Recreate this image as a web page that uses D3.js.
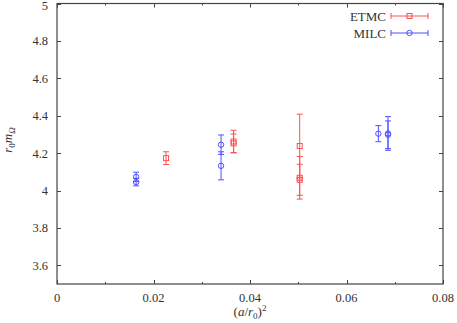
<!DOCTYPE html>
<html>
<head>
<meta charset="utf-8">
<script src="https://cdn.jsdelivr.net/npm/d3@7"></script>
<style>
  body { margin: 0; background: #fff; }
</style>
</head>
<body>
<svg id="chart" width="457" height="323" font-family="'Liberation Serif', 'DejaVu Serif', serif"></svg>
<script>
// ETMC points: x = (a/r0)^2, y = r0 mΩ, err = error
const etmcX = [0.0226, 0.0366, 0.0366, 0.0503, 0.0503, 0.0503];
const etmcY = [4.173, 4.262, 4.252, 4.238, 4.068, 4.057];
const etmcErr = [0.034, 0.060, 0.050, 0.170, 0.114, 0.083];

// MILC points
const milcX = [0.0164, 0.0164, 0.0340, 0.0340, 0.0666, 0.0686, 0.0686];
const milcY = [4.073, 4.045, 4.245, 4.132, 4.304, 4.305, 4.298];
const milcErr = [0.025, 0.020, 0.052, 0.075, 0.043, 0.090, 0.074];

const xTicks = [0, 0.02, 0.04, 0.06, 0.08];
const xMinor = [0.01, 0.03, 0.05, 0.07];
const yTicks = [3.6, 3.8, 4, 4.2, 4.4, 4.6, 4.8, 5];

const svg = d3.select("#chart");
const margin = { top: 3.5, right: 14, bottom: 39, left: 57 };
const width = 457, height = 323;

const x = d3.scaleLinear().domain([0, 0.08]).range([margin.left, width - margin.right]);
const y = d3.scaleLinear().domain([3.5, 5]).range([height - margin.bottom, margin.top]);

const frameColor = "#444";
const textColor = "#333";
const red = "rgb(255,80,80)";
const blue = "rgb(80,80,255)";

// ticks on all four sides
const tickG = svg.append("g").attr("stroke", frameColor).attr("stroke-width", 1);
xTicks.concat(xMinor).forEach(v => {
  const len = xMinor.includes(v) ? 2 : 4;
  const px = Math.round(x(v)) + 0.5;
  tickG.append("line").attr("x1", px).attr("x2", px).attr("y1", y(3.5)).attr("y2", y(3.5) - len);
  tickG.append("line").attr("x1", px).attr("x2", px).attr("y1", y(5)).attr("y2", y(5) + len);
});
yTicks.forEach(v => {
  const py = Math.round(y(v)) + 0.5;
  tickG.append("line").attr("x1", x(0)).attr("x2", x(0) + 4).attr("y1", py).attr("y2", py);
  tickG.append("line").attr("x1", x(0.08)).attr("x2", x(0.08) - 4).attr("y1", py).attr("y2", py);
});

// frame
svg.append("rect")
  .attr("x", x(0)).attr("y", y(5))
  .attr("width", x(0.08) - x(0)).attr("height", y(3.5) - y(5))
  .attr("fill", "none").attr("stroke", frameColor).attr("stroke-width", 1.2);

// tick labels
svg.append("g").attr("fill", textColor).selectAll("text").data(xTicks).join("text")
  .attr("x", d => x(d)).attr("y", y(3.5) + 18)
  .attr("text-anchor", "middle").attr("font-size", 12.5)
  .text(d => d === 0 ? "0" : d3.format(".2f")(d));

svg.append("g").attr("fill", textColor).selectAll("text").data(yTicks).join("text")
  .attr("x", x(0) - 9).attr("y", d => Math.max(y(d) + 4.5, 10))
  .attr("text-anchor", "end").attr("font-size", 12.5)
  .text(d => d === 4 || d === 5 ? String(d) : d3.format(".1f")(d));

// axis titles
const xl = svg.append("text").attr("fill", textColor).attr("x", x(0.04)).attr("y", 316)
  .attr("text-anchor", "middle").attr("font-size", 13);
xl.append("tspan").text("(");
xl.append("tspan").attr("font-style", "italic").text("a");
xl.append("tspan").text("/");
xl.append("tspan").attr("font-style", "italic").text("r");
xl.append("tspan").attr("font-size", 9).attr("dy", 3).text("0");
xl.append("tspan").attr("dy", -3).text(")");
xl.append("tspan").attr("font-size", 9).attr("dy", -5).text("2");

const yl = svg.append("text").attr("fill", textColor)
  .attr("transform", `translate(12,${y(4.27)}) rotate(-90)`)
  .attr("text-anchor", "middle").attr("font-size", 13).attr("font-style", "italic");
yl.append("tspan").text("r");
yl.append("tspan").attr("font-size", 9).attr("dy", 3).attr("font-style", "normal").text("0");
yl.append("tspan").attr("dy", -3).text("m");
yl.append("tspan").attr("font-size", 9).attr("dy", 3).text("Ω");

// error bars and markers
function drawSeries(xs, ys, errs, color, marker) {
  const g = svg.append("g").attr("stroke", color).attr("fill", "none").attr("stroke-width", 1);
  xs.forEach((xv, i) => {
    const cx = x(xv), cy = y(ys[i]);
    const top = y(ys[i] + errs[i]), bot = y(ys[i] - errs[i]);
    g.append("line").attr("x1", cx).attr("x2", cx).attr("y1", top).attr("y2", bot);
    g.append("line").attr("x1", cx - 3).attr("x2", cx + 3).attr("y1", top).attr("y2", top);
    g.append("line").attr("x1", cx - 3).attr("x2", cx + 3).attr("y1", bot).attr("y2", bot);
    marker(g, cx, cy);
  });
}
const square = (g, cx, cy) => g.append("rect").attr("x", cx - 2.5).attr("y", cy - 2.5).attr("width", 5).attr("height", 5);
const circle = (g, cx, cy) => g.append("circle").attr("cx", cx).attr("cy", cy).attr("r", 2.7);

drawSeries(etmcX, etmcY, etmcErr, red, square);
drawSeries(milcX, milcY, milcErr, blue, circle);

// legend
const legend = [
  { name: "ETMC", color: red, marker: square, y: 16 },
  { name: "MILC", color: blue, marker: circle, y: 33 }
];
legend.forEach(d => {
  svg.append("text").attr("fill", textColor).attr("x", 386).attr("y", d.y + 4.5)
    .attr("text-anchor", "end").attr("font-size", 13).text(d.name);
  const g = svg.append("g").attr("stroke", d.color).attr("fill", "none").attr("stroke-width", 1);
  g.append("line").attr("x1", 391).attr("x2", 428).attr("y1", d.y).attr("y2", d.y);
  g.append("line").attr("x1", 391).attr("x2", 391).attr("y1", d.y - 3).attr("y2", d.y + 3);
  g.append("line").attr("x1", 428).attr("x2", 428).attr("y1", d.y - 3).attr("y2", d.y + 3);
  d.marker(g, 409.5, d.y);
});
</script>
</body>
</html>
